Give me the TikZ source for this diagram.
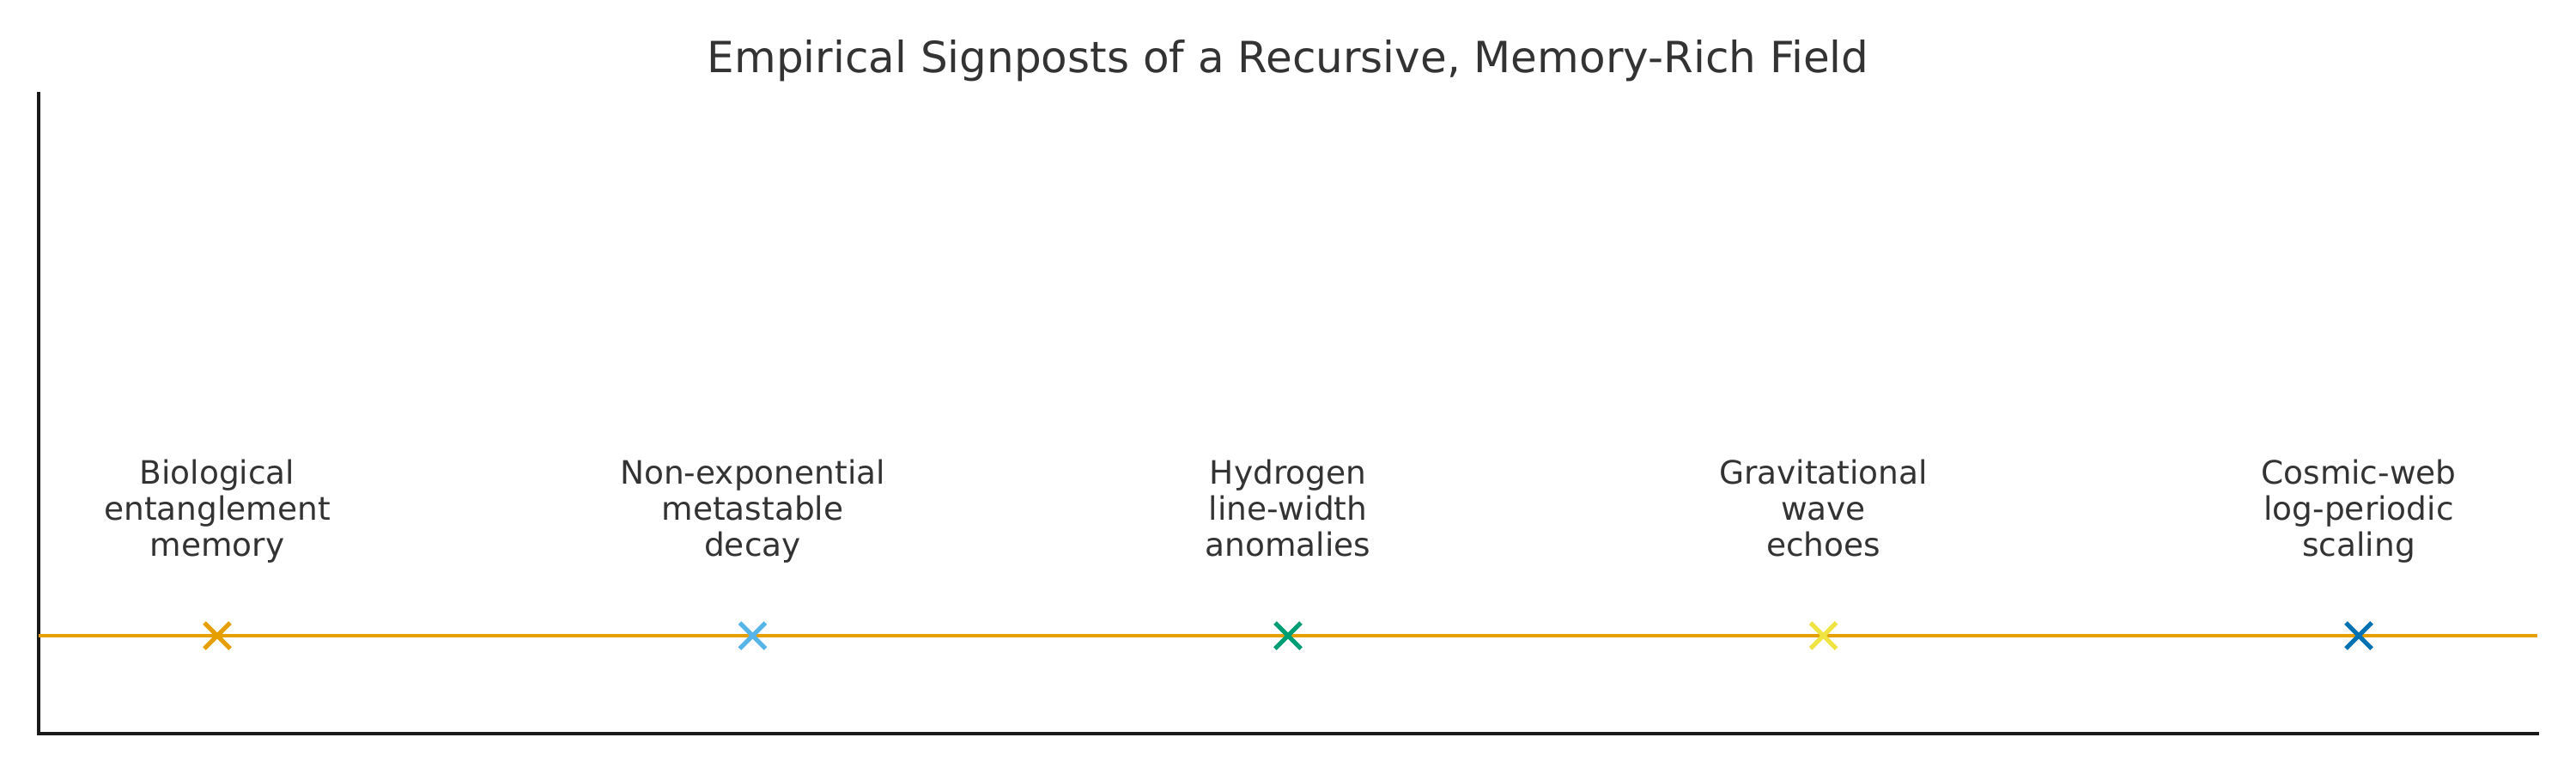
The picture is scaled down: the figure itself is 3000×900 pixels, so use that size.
\documentclass[tikz,border=0pt]{standalone}
\usepackage{fontspec}
\setmainfont{DejaVu Sans}
\definecolor{cOrange}{HTML}{E69F00}
\definecolor{cSky}{HTML}{56B4E9}
\definecolor{cGreen}{HTML}{009E73}
\definecolor{cYellow}{HTML}{F0E442}
\definecolor{cBlue}{HTML}{0072B2}
\definecolor{txt}{HTML}{333333}
\definecolor{spine}{HTML}{1A1A1A}
\begin{document}
\begin{tikzpicture}[x=0.24pt,y=-0.24pt,
  lbl/.style={inner sep=0pt, align=center, text=txt, font=\fontsize{9}{10.08}\selectfont, anchor=base},
  ttl/.style={inner sep=0pt, text=txt, font=\fontsize{12}{14}\selectfont, anchor=base},
  spineline/.style={draw=spine, line width=0.96pt},
  trackline/.style={draw=cOrange, line width=0.96pt},
  xmark/.style={line width=1.25pt}]
\useasboundingbox[fill=white] (0,0) rectangle (3000,900);
% title
\node[ttl] (title) at (1500,84) {Empirical Signposts of a Recursive, Memory-Rich Field};
% spines
\coordinate (ytop) at (45,107);
\coordinate (orig) at (45,854);
\coordinate (xend) at (2957,854);
\draw[spineline] (ytop) -- (orig) -- (xend);
% track
\coordinate (tl) at (45,740);
\coordinate (tr) at (2955,740);
\draw[trackline] (tl) -- (tr);
% markers
\foreach \n/\x/\c in {m1/253/cOrange, m2/876.5/cSky, m3/1500/cGreen, m4/2123.5/cYellow, m5/2747/cBlue}{
  \coordinate (\n) at (\x,740);
  \draw[xmark,draw=\c] ([shift={(-15,-15)}]\n) -- ([shift={(15,15)}]\n);
  \draw[xmark,draw=\c] ([shift={(-15,15)}]\n) -- ([shift={(15,-15)}]\n);
}
% labels (anchor base = baseline of last line)
\node[lbl] (l1) at (253,647) {Biological\\entanglement\\memory};
\node[lbl] (l2) at (876.5,647) {Non-exponential\\metastable\\decay};
\node[lbl] (l3) at (1500,647) {Hydrogen\\line-width\\anomalies};
\node[lbl] (l4) at (2123.5,647) {Gravitational\\wave\\echoes};
\node[lbl] (l5) at (2747,647) {Cosmic-web\\log-periodic\\scaling};
\end{tikzpicture}
\end{document}
